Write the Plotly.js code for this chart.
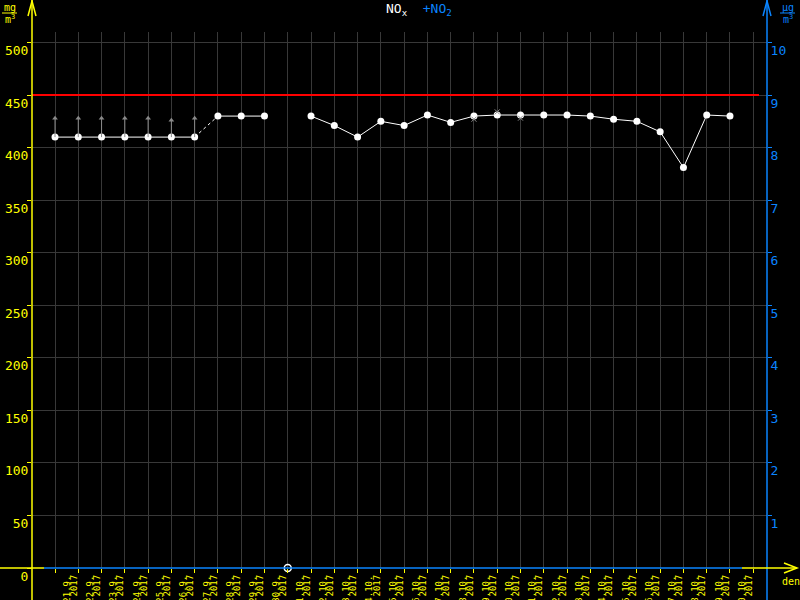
<!DOCTYPE html>
<html>
<head>
<meta charset="utf-8">
<script src="https://cdn.plot.ly/plotly-3.0.1.min.js"></script>
<style>html,body{margin:0;padding:0;background:#000;}#chart{width:800px;height:600px;}</style>
</head>
<body>
<div id="chart"></div>
<script>
// ---- data ----
const dates = ["21.9.","22.9.","23.9.","24.9.","25.9.","26.9.","27.9.","28.9.","29.9.","30.9.",
  "1.10.","2.10.","3.10.","4.10.","5.10.","6.10.","7.10.","8.10.","9.10.","10.10.",
  "11.10.","12.10.","13.10.","14.10.","15.10.","16.10.","17.10.","18.10.","19.10.","20.10."];
const yearLabel = "2017";
const noxValues = [410,410,410,410,410,410,410,430,430,430,null,430,421,410,425,421,431,424,430,431,
  431,431,431,430,427,425,415,381,431,430];
const offScaleDays = ["21.9.","22.9.","23.9.","24.9.","25.9.","26.9.","27.9."];
const offScaleTips = [428,428,428,428,428,426,428];
const minorMarkDays = ["9.10.","10.10.","11.10."];
const minorMarkValues = [427,434,428];
const missingDays = ["1.10."];
const missingValues = [0];
const limitValue = 450;
const leftTicks = [0,50,100,150,200,250,300,350,400,450,500];
const rightTicks = [1,2,3,4,5,6,7,8,9,10];

// ---- build ----
const idx = d => dates.indexOf(d);
const dayIdx = dates.map((d,i)=>i);
const YEL = "#ffff00", BLU = "#0a84ff", GRID = "#383838", FONT = "DejaVu Sans Mono";
const breakAt = 7; // dotted connection between 27.9. and 28.9.

const traces = [];
traces.push({x: dayIdx.slice(0,breakAt), y: noxValues.slice(0,breakAt), mode:"lines+markers",
  line:{color:"#fff",width:1}, marker:{color:"#fff",size:7}, cliponaxis:false});
traces.push({x: dayIdx.slice(breakAt), y: noxValues.slice(breakAt), mode:"lines+markers",
  line:{color:"#fff",width:1}, marker:{color:"#fff",size:7}, connectgaps:false, cliponaxis:false});
traces.push({x: [breakAt-1, breakAt], y: [noxValues[breakAt-1], noxValues[breakAt]], mode:"lines",
  line:{color:"#fff",width:1,dash:"dot"}});
const ax = [], ay = [];
offScaleDays.forEach((d,k)=>{ ax.push(idx(d), idx(d), null); ay.push(noxValues[idx(d)], offScaleTips[k], null); });
traces.push({x: ax, y: ay, mode:"lines", line:{color:"#8a8a8a",width:1}});
traces.push({x: offScaleDays.map(idx), y: offScaleTips, mode:"markers",
  marker:{symbol:"triangle-up",color:"#8a8a8a",size:5}});
traces.push({x: minorMarkDays.map(idx), y: minorMarkValues, mode:"markers",
  marker:{symbol:"x-thin-open",color:"#8a8a8a",size:5,line:{color:"#8a8a8a",width:1}}});
traces.push({x: missingDays.map(idx), y: missingValues, mode:"markers",
  marker:{symbol:"circle-open",color:"#fff",size:7,line:{color:"#fff",width:1.5}}, cliponaxis:false});
traces.push({x:[0], y:[null], yaxis:"y2", mode:"markers", hoverinfo:"skip"});
traces.push({x:[0], y:[null], xaxis:"x2", mode:"markers", hoverinfo:"skip"});

const L=32, R=33, T=32, B=32, W=800-L-R, H=600-T-B;
const px = v => (v-L)/W, py = v => (600-B-v)/H;
const xt = dayIdx.concat([dates.length]);
const xtt = dates.concat([""]);
const ytt = dates.map(()=>yearLabel).concat([""]);
const XR = [-0.988,30.59];

const shapes = [
  {type:"line", xref:"paper", yref:"y", x0:0, x1:px(759), y0:limitValue, y1:limitValue, line:{color:"#ff0000",width:2}},
  {type:"line", xref:"paper", yref:"paper", x0:0, x1:0, y0:py(600), y1:py(0), line:{color:YEL,width:1.5}},
  {type:"line", xref:"paper", yref:"paper", x0:1, x1:1, y0:py(600), y1:py(0), line:{color:BLU,width:1.5}},
  {type:"line", xref:"paper", yref:"paper", x0:px(0), x1:px(44), y0:0, y1:0, line:{color:YEL,width:1.5}},
  {type:"line", xref:"paper", yref:"paper", x0:px(44), x1:px(742), y0:0, y1:0, line:{color:BLU,width:1.5}},
  {type:"line", xref:"paper", yref:"paper", x0:px(742), x1:px(797), y0:0, y1:0, line:{color:YEL,width:1.5}},
  {type:"path", xref:"paper", yref:"paper", path:`M ${px(784)},${py(563)} L ${px(797)},${py(568)} L ${px(784)},${py(573)}`, line:{color:YEL,width:1.5}},
  {type:"path", xref:"paper", yref:"paper", path:`M ${px(28)},${py(16)} L ${px(32)},${py(1)} L ${px(36)},${py(16)}`, line:{color:YEL,width:1.5}},
  {type:"path", xref:"paper", yref:"paper", path:`M ${px(763)},${py(16)} L ${px(767)},${py(1)} L ${px(771)},${py(16)}`, line:{color:BLU,width:1.5}},
  {type:"line", xref:"paper", yref:"paper", x0:px(2), x1:px(17), y0:py(13), y1:py(13), line:{color:YEL,width:1}},
  {type:"line", xref:"paper", yref:"paper", x0:px(780), x1:px(795), y0:py(13), y1:py(13), line:{color:BLU,width:1}}
];
const ann = (t,x,y,c,s) => ({text:t, xref:"paper", yref:"paper", x:px(x), y:py(y), showarrow:false,
  xanchor:"center", yanchor:"middle", font:{family:FONT,size:s,color:c}});
const annotations = [
  ann('NO<sub>x</sub>  <span style="color:'+BLU+'">+NO<sub>2</sub></span>', 419, 10, "#fff", 13),
  ann("mg", 10, 7, YEL, 10), ann("m<sup>3</sup>", 10, 19, YEL, 10),
  ann("µg", 788, 7, BLU, 10), ann("m<sup>3</sup>", 788, 19, BLU, 10),
  ann("den", 791, 581, YEL, 10)
];

const layout = {
  width:800, height:600, margin:{l:L,r:R,t:T,b:B,pad:0},
  paper_bgcolor:"#000", plot_bgcolor:"#000", showlegend:false,
  font:{family:FONT,color:YEL},
  xaxis:{range:XR, tickmode:"array", tickvals:xt, ticktext:xtt, tickangle:-90,
    ticks:"outside", ticklen:4, tickcolor:YEL, tickwidth:1,
    tickfont:{family:FONT,size:9,color:YEL}, ticklabelshift:12, ticklabelstandoff:-1,
    showgrid:true, gridcolor:GRID, gridwidth:1, zeroline:false, showline:false},
  xaxis2:{range:XR, overlaying:"x", side:"bottom", anchor:"y", tickmode:"array", tickvals:xt, ticktext:ytt,
    tickangle:-90, ticks:"", tickfont:{family:FONT,size:9,color:YEL}, ticklabelshift:19, ticklabelstandoff:4,
    showgrid:false, zeroline:false, showline:false},
  yaxis:{range:[0,510], tickmode:"array", tickvals:leftTicks, ticks:"outside", ticklen:4, tickcolor:YEL,
    tickfont:{family:FONT,size:13,color:YEL}, ticklabelshift:8, ticklabelstandoff:-4,
    showgrid:true, gridcolor:GRID, gridwidth:1, zeroline:false, showline:false},
  yaxis2:{range:[0,10.2], overlaying:"y", side:"right", tickmode:"array", tickvals:rightTicks,
    ticks:"outside", ticklen:4, tickcolor:BLU, tickfont:{family:FONT,size:13,color:BLU},
    ticklabelshift:8, ticklabelstandoff:-4, showgrid:false, zeroline:false, showline:false},
  shapes:shapes, annotations:annotations
};
Plotly.newPlot("chart", traces, layout, {staticPlot:true});
</script>
</body>
</html>
